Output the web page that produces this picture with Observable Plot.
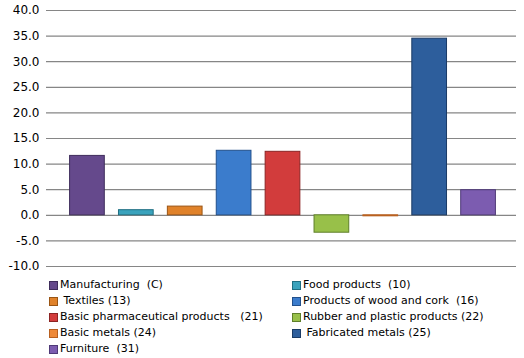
<!DOCTYPE html>
<html><head><meta charset="utf-8">
<script src="https://cdn.jsdelivr.net/npm/d3@7"></script>
<script src="https://cdn.jsdelivr.net/npm/@observablehq/plot@0.6"></script>
<style>
body{margin:0;background:#fff;font-family:"DejaVu Sans",Verdana,sans-serif;}
#chart{position:relative;width:524px;height:358px;}
#legend{position:absolute;left:0;top:277px;width:524px;font-size:11px;color:#000;}
.item{position:absolute;height:16px;line-height:16px;white-space:pre;}
.sw{position:absolute;top:4px;width:7px;height:7px;}
</style></head>
<body><div id="chart"><div id="plot"></div><div id="legend"></div></div>
<script>
const categories = ["Manufacturing  (C)","Food products  (10)"," Textiles (13)","Products of wood and cork  (16)","Basic pharmaceutical products   (21)","Rubber and plastic products (22)","Basic metals (24)"," Fabricated metals (25)","Furniture  (31)"];
const values = [11.6, 1.0, 1.7, 12.6, 12.4, -3.4, -0.2, 34.5, 4.9];
const colors = ["#65498c","#3aa3bd","#e0822a","#3b7ccc","#d23c3c","#98c049","#ee8a3a","#2d5e9c","#7c5cb0"];
const strokes = ["#3f2d5c","#1f6f82","#9a5514","#22508c","#8c2424","#5f7f2a","#b86020","#1a3b66","#4f3a78"];
const yTicks = [-10,-5,0,5,10,15,20,25,30,35,40];

const data = categories.map((c,i)=>({c, v: values[i], fill: colors[i], stroke: strokes[i]}));

const plot = Plot.plot({
  width: 524, height: 274,
  marginLeft: 50, marginRight: 8, marginTop: 10, marginBottom: 8,
  x: {domain: categories, paddingInner: 0.29, paddingOuter: 0.145, insetLeft: 12.5, insetRight: 13.5, round: false, axis: null},
  y: {domain: [-10, 40], ticks: yTicks, axis: null},
  marks: [
    Plot.ruleY(yTicks, {stroke: "#868686", strokeWidth: 1.2, strokeOpacity: 1, insetLeft: -4}),
    Plot.ruleX([0], {frameAnchor: "left", y1: -10, y2: 40, stroke: "#868686", strokeWidth: 1.2}),
    Plot.barY(data, {x: "c", y: "v", fill: "fill", stroke: "stroke", strokeWidth: 1}),
    Plot.text(yTicks, {frameAnchor: "left", y: d => d, text: d => d.toFixed(1), textAnchor: "end", dx: -11, fontSize: 12, fill: "#000", fontFamily: "DejaVu Sans"})
  ]
});
document.getElementById("plot").appendChild(plot);

const legend = document.getElementById("legend");
categories.forEach((c,i)=>{
  const col = i % 2, row = Math.floor(i/2);
  const it = document.createElement("div");
  it.className = "item";
  it.style.left = (col ? 292 : 49) + "px";
  it.style.top = (row*16) + "px";
  it.innerHTML = `<span class="sw" style="left:0;background:${colors[i]};border:1px solid ${strokes[i]}"></span><span style="position:absolute;left:11px;">${c}</span>`;
  legend.appendChild(it);
});
</script></body></html>
